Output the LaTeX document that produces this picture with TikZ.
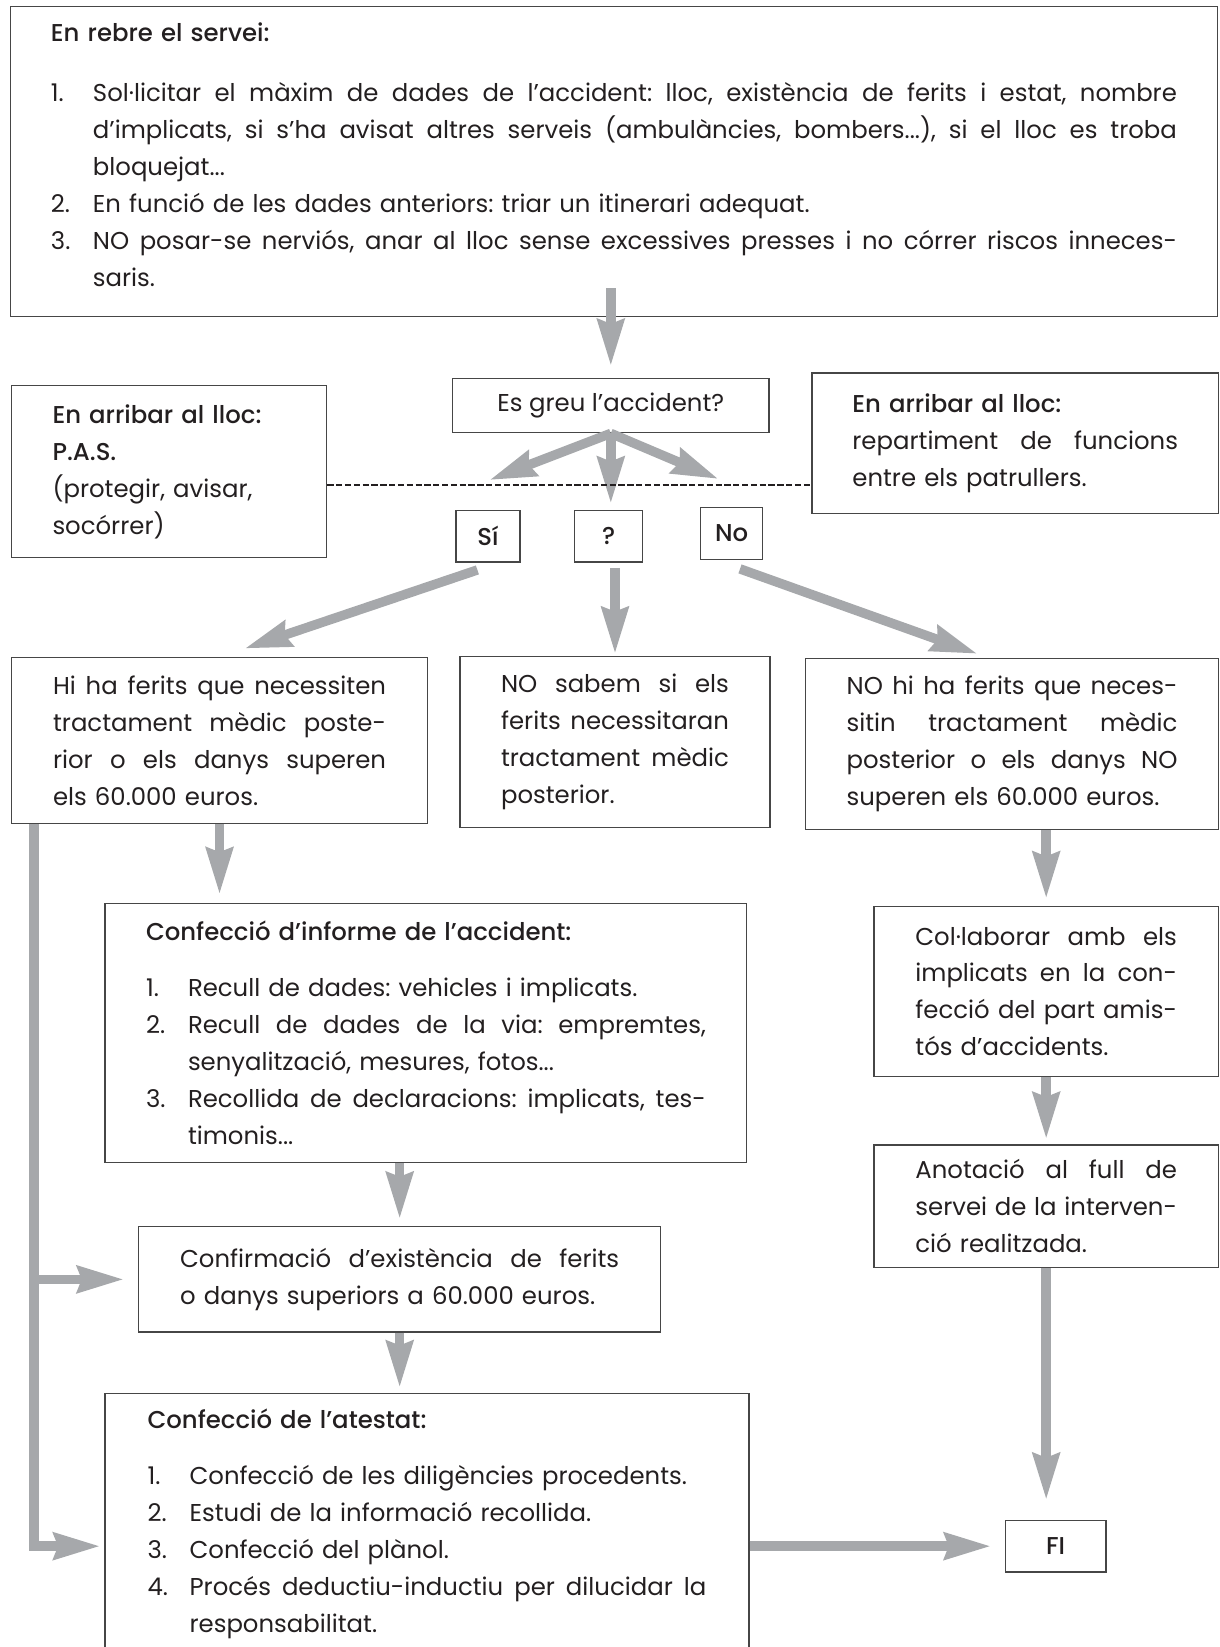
\documentclass[tikz,border=0pt]{standalone}
\usepackage{fontspec}
\setmainfont{Poppins}[BoldFont={Poppins Medium}]
\usetikzlibrary{arrows.meta,calc}

\definecolor{arrowgray}{RGB}{166,168,171}
\definecolor{boxline}{RGB}{70,70,70}
\definecolor{ink}{RGB}{35,31,32}

% justified lines and numbered lines
\newcommand\spread[2]{\makebox[#1][s]{\spaceskip=.27em plus 1fil minus .05em\relax #2}}
\newcommand\jline[1]{\spread{\linewidth}{#1}}
\newcommand\numjust[2]{\makebox[20pt][l]{#1}\spread{\dimexpr\linewidth-20pt\relax}{#2}}
\newcommand\numtext[2]{\makebox[20pt][l]{#1}#2}
\newcommand\contjust[1]{\hspace*{20pt}\spread{\dimexpr\linewidth-20pt\relax}{#1}}
\newcommand\conttext[1]{\hspace*{20pt}#1}

\tikzset{
  box/.style={draw=boxline, line width=0.6pt, inner sep=0pt, align=left, text=ink,
    font=\fontsize{11.6}{17.6}\selectfont\frenchspacing},
  answer/.style={box, font=\fontsize{11.6}{17.6}\selectfont\bfseries},
  garrow/.style={draw=arrowgray, line width=4.5pt,
    -{Stealth[length=22pt,width=12.5pt,inset=2pt]}},
  dashline/.style={draw=ink, line width=0.9pt, dash pattern=on 3pt off 1.2pt},
}

\begin{document}
\begin{tikzpicture}[x=0.5pt,y=-0.5pt]
  \useasboundingbox (0,0) rectangle (1161,1568);
  \clip (0,0) rectangle (1161,1568);

  % Service box
  \node[box, minimum width=574.5pt, minimum height=147.5pt, text width=536pt] (servei) at (584.5,153.5) {
    {\bfseries En rebre el servei:}\\[10.75pt]
    \numjust{1.}{Sol·licitar el màxim de dades de l’accident: lloc, existència de ferits i estat, nombre}\\
    \contjust{d’implicats, si s’ha avisat altres serveis (ambulàncies, bombers...), si el lloc es troba}\\
    \conttext{bloquejat...}\\
    \numtext{2.}{En funció de les dades anteriors: triar un itinerari adequat.}\\
    \numjust{3.}{NO posar-se nerviós, anar al lloc sense excessives presses i no córrer riscos inneces-}\\
    \conttext{saris.}\par\vspace*{6.25pt}};

  % Question and side notes
  \node[box, minimum width=150.5pt, minimum height=26pt] (greu) at (581.5,386) {Es greu l’accident?};
  \node[box, minimum width=150pt, minimum height=82pt, text width=111pt] (pas) at (161,449) {
    {\bfseries En arribar al lloc:}\\
    {\bfseries P.A.S.}\\
    (protegir, avisar,\\
    socórrer)};
  \node[box, minimum width=193.5pt, minimum height=67pt, text width=155pt] (patrul) at (966.5,422) {
    {\bfseries En arribar al lloc:}\\
    \jline{repartiment de funcions}\\
    entre els patrullers.};

  % Answers
  \node[answer, minimum width=30.5pt, minimum height=24.5pt] (si) at (464.5,510.5) {Sí};
  \node[answer, minimum width=32.5pt, minimum height=24.5pt] (dubte) at (579.5,510.5) {?};
  \node[answer, minimum width=29.5pt, minimum height=25pt] (no) at (696.5,508) {No};

  % Second row
  \node[box, minimum width=198pt, minimum height=79pt, text width=158.5pt] (ferits) at (209,705) {
    \jline{Hi ha ferits que necessiten}\\
    \jline{tractament mèdic poste-}\\
    \jline{rior o els danys superen}\\
    els 60.000 euros.};
  \node[box, minimum width=147.5pt, minimum height=81.5pt, text width=108.5pt] (sabem) at (585.5,706.5) {
    \jline{NO sabem si els}\\
    \jline{ferits necessitaran}\\
    \jline{tractament mèdic}\\
    posterior.};
  \node[box, minimum width=196.5pt, minimum height=81.5pt, text width=157.5pt] (noferits) at (963.5,708.5) {
    \jline{NO hi ha ferits que neces-}\\
    \jline{sitin tractament mèdic}\\
    \jline{posterior o els danys NO}\\
    superen els 60.000 euros.};

  % Report, agreement and notes
  \node[box, minimum width=305.5pt, minimum height=123.5pt, text width=266.5pt] (informe) at (405.5,983.5) {
    {\bfseries Confecció d’informe de l’accident:}\\[9pt]
    \numtext{1.}{Recull de dades: vehicles i implicats.}\\
    \numjust{2.}{Recull de dades de la via: empremtes,}\\
    \conttext{senyalització, mesures, fotos...}\\
    \numjust{3.}{Recollida de declaracions: implicats, tes-}\\
    \conttext{timonis...}};
  \node[box, minimum width=164pt, minimum height=81pt, text width=124.5pt] (collab) at (996,944) {
    \jline{Col·laborar amb els}\\
    \jline{implicats en la con-}\\
    \jline{fecció del part amis-}\\
    tós d’accidents.};
  \node[box, minimum width=164pt, minimum height=58.5pt, text width=124.5pt] (anotacio) at (996,1148.5) {
    \jline{Anotació al full de}\\
    \jline{servei de la interven-}\\
    ció realitzada.};
  \node[box, minimum width=248.5pt, minimum height=50pt, text width=209pt] (confirm) at (380.5,1218) {
    \jline{Confirmació d’existència de ferits}\\
    o danys superiors a 60.000 euros.};

  % Final report and end
  \node[box, anchor=north, minimum width=306.5pt, text width=266pt, inner ysep=7.5pt] (atestat) at (406.5,1326) {
    {\bfseries Confecció de l’atestat:}\\[9pt]
    \numtext{1.}{Confecció de les diligències procedents.}\\
    \numtext{2.}{Estudi de la informació recollida.}\\
    \numtext{3.}{Confecció del plànol.}\\
    \numjust{4.}{Procés deductiu-inductiu per dilucidar la}\\
    \conttext{responsabilitat.}\\[20pt]\mbox{}};
  \node[answer, minimum width=48pt, minimum height=24.5pt] (fi) at (1005,1472) {FI};

  % Arrows
  \coordinate (toSi) at (466,457);
  \coordinate (toNo) at (684,456);
  \coordinate (side) at ($(ferits.south west)+(22,0)$);
  \draw[garrow] ($(greu.north |- servei.south)+(0,-27)$) -- ($(greu.north)+(0,-11)$);
  \draw[garrow] (greu.south) -- (toSi);
  \draw[garrow] (greu.south) -- ($(dubte.north)+(2,-6)$);
  \draw[garrow] (greu.south) -- (toNo);
  \draw[garrow] ($(si.south)+(-10,7)$) -- ($(ferits.north)+(24,-8)$);
  \draw[garrow] ($(sabem.north |- dubte.south)+(0,5)$) -- ($(sabem.north)+(0,-2)$);
  \draw[garrow] ($(no.south)+(8,8)$) -- ($(noferits.north)+(-33,-4)$);
  \draw[garrow] (ferits.south) -- ($(ferits.south |- informe.north)+(0,-8)$);
  \draw[garrow] (collab.north |- noferits.south) -- ($(collab.north)+(0,-7)$);
  \draw[garrow] (collab.south) -- ($(anotacio.north)+(0,-5)$);
  \draw[garrow] (anotacio.south) -- ($(anotacio.south |- fi.north)+(0,-19)$);
  \draw[garrow] (confirm.north |- informe.south) -- ($(confirm.north)+(0,-7)$);
  \draw[garrow] (confirm.south) -- ($(confirm.south |- atestat.north)+(0,-5)$);
  \draw[garrow] (atestat.east |- fi.west) -- ($(fi.west)+(-13,0)$);
  \draw[garrow] (side) |- ($(atestat.west |- fi.west)+(-4,0)$);
  \draw[garrow] (side |- confirm.west) -- ($(confirm.west)+(-13.5,0)$);

  % Dashed line between the side notes
  \coordinate (dash) at (0,462);
  \draw[dashline] (pas.east |- dash) -- (patrul.west |- dash);
\end{tikzpicture}
\end{document}
